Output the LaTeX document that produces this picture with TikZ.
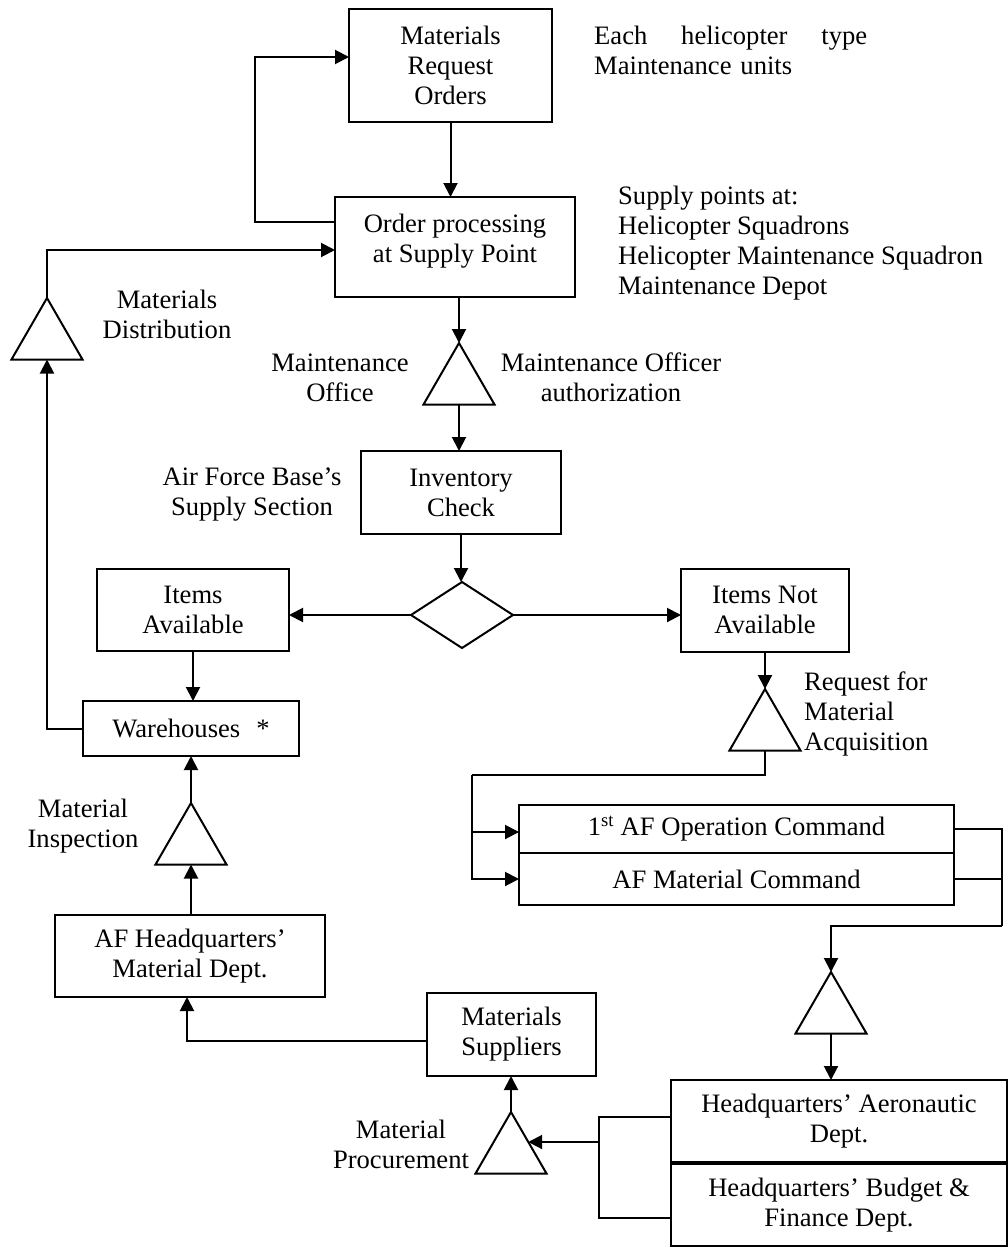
\documentclass[tikz,border=0pt]{standalone}
\usepackage{fontspec}
\setmainfont{Liberation Serif}
\usetikzlibrary{arrows.meta,shapes.geometric,calc}
\begin{document}
\begin{tikzpicture}[x=1pt,y=-1pt,
  every node/.style={font=\fontsize{26.6pt}{30pt}\selectfont},
  box/.style={draw, line width=2pt, inner sep=0pt, outer sep=0pt, align=center},
  tri/.style={draw, regular polygon, regular polygon sides=3, minimum size=82pt, inner sep=0pt, outer sep=0pt, line width=2pt},
  lbl/.style={inner sep=0pt, align=center},
  arr/.style={-{Triangle[length=14pt,width=14pt]}, line width=2pt},
  ln/.style={line width=2pt}]
\useasboundingbox (0,0) rectangle (1008,1247);

% boxes
\node[box, minimum width=203pt, minimum height=113pt] (MRO) at (450.5,65.5) {Materials\\Request\\Orders};
\node[box, minimum width=240pt, minimum height=100pt] (OPSP) at (455,247) {Order processing\\at Supply Point\\[-12pt]};
\node[box, minimum width=200pt, minimum height=83pt] (INV) at (461,492.5) {Inventory\\Check};
\node[draw, diamond, aspect=1.545, minimum width=102pt, minimum height=66pt, inner sep=0pt, outer sep=0pt, line width=2pt] (D) at (462,615) {};
\node[box, minimum width=192pt, minimum height=82pt] (IA) at (193,609.5) {Items\\Available};
\node[box, minimum width=168pt, minimum height=83pt] (INA) at (765,610) {Items Not\\Available};
\node[box, minimum width=216pt, minimum height=55pt] (WH) at (191,728.5) {Warehouses\hspace{16pt}*};
\node[box, minimum width=270pt, minimum height=82pt] (AFHQ) at (190,956) {AF Headquarters’\\Material Dept.};
\node[box, minimum width=169pt, minimum height=83pt] (MS) at (511.5,1034.5) {Materials\\Suppliers};
\node[box, minimum width=435pt, minimum height=48pt] (AF1) at (736.5,829) {1\textsuperscript{st} AF Operation Command};
\node[box, minimum width=435pt, minimum height=52pt] (AFM) at (736.5,879) {AF Material Command};
\node[box, minimum width=336pt, minimum height=82pt] (HQA) at (839,1121) {Headquarters’ Aeronautic\\Dept.};
\node[box, minimum width=336pt, minimum height=82pt] (HQB) at (839,1205) {Headquarters’ Budget \&\\Finance Dept.};

% triangles
\node[tri] (T1) at (459,384) {};
\node[tri] (T2) at (47,339) {};
\node[tri] (T3) at (191,844) {};
\node[tri] (T4) at (765,730) {};
\node[tri] (T5) at (831,1013) {};
\node[tri] (T6) at (511,1153) {};

% labels
\node[lbl, anchor=west, text width=273pt, align=left] (Lhel) at (594,50) {Each\hfill helicopter\hfill type\\Maintenance units};
\node[lbl, anchor=west, align=left] (Lsup) at (618,243) {Supply points at:\\Helicopter Squadrons\\Helicopter Maintenance Squadron\\Maintenance Depot};
\node[lbl] (Ldist) at (167,314) {Materials\\Distribution};
\node[lbl] (Lmo) at (340,377.5) {Maintenance\\Office};
\node[lbl] (Lmoa) at (611,377.5) {Maintenance Officer\\authorization};
\node[lbl] (Lafb) at (252,494.5) {Air Force Base’s\\Supply Section};
\node[lbl, anchor=west, align=left] (Lreq) at (804,714) {Request for\\Material\\Acquisition};
\node[lbl] (Lins) at (83,826.5) {Material\\Inspection};
\node[lbl] (Lproc) at (401,1144) {Material\\Procurement};

% connectors
\draw[arr] (MRO.south) -- (MRO.south |- OPSP.north);
\draw[arr] ([yshift=25pt]OPSP.west) -- ++(-80,0) |- ([yshift=8.5pt]MRO.west);
\draw[arr] (T2.north) |- ([yshift=-3pt]OPSP.west);
\draw[arr] (WH.west) -| (T2.south);
\draw[arr] (T1.north |- OPSP.south) -- (T1.north);
\draw[arr] (T1.south) -- (T1.south |- INV.north);
\draw[arr] (INV.south) -- (INV.south |- D.north);
\draw[arr] (D.west) -- (D.west -| IA.east);
\draw[arr] (D.east) -- (D.east -| INA.west);
\draw[arr] (IA.south) -- (IA.south |- WH.north);
\draw[arr] (T3.north) -- (T3.north |- WH.south);
\draw[arr] (T3.south |- AFHQ.north) -- (T3.south);
\draw[arr] ([yshift=-6.5pt]MS.west) -| ([xshift=-3pt]AFHQ.south);
\draw[arr] (T6.north) -- (T6.north |- MS.south);
\draw[arr] (INA.south) -- (T4.north);
\coordinate (s1) at (472,775);
\draw[ln] (T4.south) |- (s1);
\draw[arr] (s1) |- ([yshift=-3pt]AF1.west);
\draw[arr] (s1) |- (AFM.west);
\coordinate (s2) at (1002,926);
\draw[ln] (AF1.east) -| (s2);
\draw[ln] (AFM.east) -- (AFM.east -| s2);
\draw[arr] (s2) -| (T5.north);
\draw[arr] (T5.south) -- (T5.south |- HQA.north);
\coordinate (s3) at (599,1142);
\draw[ln] ([yshift=4pt]HQA.west) -| (s3);
\draw[ln] ([yshift=-13pt]HQB.west) -| (s3);
\draw[arr] (s3) -- (s3 -| T6.33);
\end{tikzpicture}
\end{document}
